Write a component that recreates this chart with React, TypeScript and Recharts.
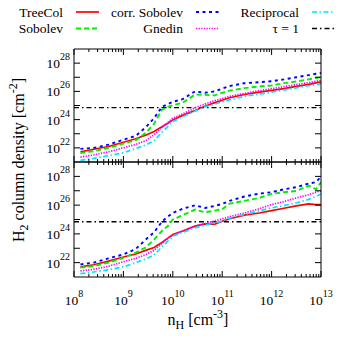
import React from "react"
import { LineChart, Line, XAxis, YAxis, ReferenceLine } from "recharts"

// sample points, log10 of n_H [cm^-3]
const DENSITY_EXP = [8.13, 8.4, 8.7, 9.0, 9.25, 9.45, 9.62, 9.78, 9.9, 10.0, 10.2, 10.45, 10.65, 10.85, 11.0, 11.15, 11.45, 11.75, 12.0, 12.25, 12.5, 12.75, 12.9, 13.0]

// upper panel, log10 of the H2 column density [cm^-2]
const TOP_TREECOL = [21.72, 21.9, 22.1, 22.4, 22.65, 22.9, 23.16, 23.5, 23.75, 23.98, 24.3, 24.65, 24.95, 25.2, 25.37, 25.55, 25.78, 25.95, 26.07, 26.2, 26.35, 26.5, 26.6, 26.67]
const TOP_SOBOLEV = [21.63, 21.77, 22.0, 22.3, 22.55, 23.05, 23.7, 24.7, 24.9, 25.02, 25.2, 25.77, 25.75, 25.72, 25.9, 26.05, 26.23, 26.35, 26.42, 26.58, 26.7, 26.85, 26.95, 27.0]
const TOP_CORR = [21.93, 22.0, 22.23, 22.58, 22.85, 23.45, 24.1, 24.9, 25.1, 25.26, 25.45, 26.0, 25.9, 26.0, 26.2, 26.38, 26.58, 26.65, 26.72, 26.85, 27.0, 27.15, 27.25, 27.3]
const TOP_GNEDIN = [21.35, 21.5, 21.72, 22.0, 22.25, 22.5, 22.93, 23.45, 23.8, 24.1, 24.4, 24.84, 25.1, 25.35, 25.49, 25.65, 25.85, 26.05, 26.19, 26.33, 26.48, 26.62, 26.72, 26.77]
const TOP_RECIP = [21.12, 21.26, 21.45, 21.65, 21.95, 22.2, 22.5, 23.1, 23.5, 23.86, 24.2, 24.6, 24.9, 25.1, 25.26, 25.4, 25.65, 25.8, 25.95, 26.1, 26.25, 26.4, 26.48, 26.53]

// lower panel
const BOT_TREECOL = [21.7, 21.85, 22.1, 22.39, 22.6, 22.85, 23.05, 23.4, 23.7, 23.96, 24.2, 24.54, 24.7, 24.67, 24.88, 25.05, 25.3, 25.45, 25.62, 25.78, 25.95, 26.08, 26.04, 26.04]
const BOT_SOBOLEV = [21.65, 21.76, 22.0, 22.34, 22.7, 23.05, 23.6, 24.2, 24.55, 25.0, 25.3, 25.69, 25.5, 25.62, 25.72, 26.1, 26.3, 26.5, 26.78, 26.9, 26.98, 27.35, 27.1, 27.6]
const BOT_CORR = [21.88, 22.0, 22.3, 22.57, 22.95, 23.6, 24.1, 24.85, 25.2, 25.46, 25.75, 25.99, 25.8, 25.95, 26.08, 26.3, 26.6, 26.8, 26.9, 27.1, 27.25, 27.5, 27.6, 28.0]
const BOT_GNEDIN = [21.42, 21.53, 21.75, 22.06, 22.3, 22.55, 22.85, 23.35, 23.7, 23.91, 24.2, 24.54, 24.72, 24.9, 25.05, 25.2, 25.45, 25.75, 26.04, 26.25, 26.5, 26.72, 26.9, 27.0]
const BOT_RECIP = [21.23, 21.35, 21.5, 21.7, 22.0, 22.25, 22.53, 23.1, 23.5, 23.84, 24.1, 24.42, 24.6, 24.75, 24.9, 25.1, 25.35, 25.6, 25.81, 25.97, 26.15, 26.4, 26.6, 26.78]

const TAU_ONE = 7e24

const X_DECADES = [8, 9, 10, 11, 12, 13]
const Y_DECADES = [22, 23, 24, 25, 26, 27, 28]
const Y_LABELLED = [22, 24, 26, 28]

const W = 338
const LEFT = 74
const RIGHT = 321
const SERIF = { fontFamily: "'Liberation Serif', 'Times New Roman', Times, serif" }

const SERIES = [
  { key: "treecol", name: "TreeCol", color: "#ff0000", dash: undefined, width: 1.7 },
  { key: "sobolev", name: "Sobolev", color: "#00ee00", dash: "5 3", width: 1.9 },
  { key: "corr", name: "corr. Sobolev", color: "#0000ff", dash: "3 3.5", width: 1.9 },
  { key: "gnedin", name: "Gnedin", color: "#ff00ff", dash: "1.3 1.3", width: 1.7 },
  { key: "recip", name: "Reciprocal", color: "#00e5ff", dash: "5 2.5 1.5 2.5", width: 1.7 },
]
const TAU_DASH = "5 3 1.5 3"

const makeRows = (cols: Record<string, number[]>) =>
  DENSITY_EXP.map((e, i) => {
    const row: Record<string, number> = { n: 10 ** e }
    Object.keys(cols).forEach(k => { row[k] = 10 ** cols[k][i] })
    return row
  })

const TOP_ROWS = makeRows({ treecol: TOP_TREECOL, sobolev: TOP_SOBOLEV, corr: TOP_CORR, gnedin: TOP_GNEDIN, recip: TOP_RECIP })
const BOT_ROWS = makeRows({ treecol: BOT_TREECOL, sobolev: BOT_SOBOLEV, corr: BOT_CORR, gnedin: BOT_GNEDIN, recip: BOT_RECIP })

// major + minor log ticks
const X_TICKS: number[] = []
X_DECADES.forEach(d => {
  if (d === 13) { X_TICKS.push(1e13); return }
  for (let m = 1; m <= 9; m++) X_TICKS.push(m * 10 ** d)
})
const Y_TICKS = Y_DECADES.map(d => 10 ** d)

const isDecade = (v: number) => Math.abs(Math.log10(v) - Math.round(Math.log10(v))) < 1e-6

const XTick = (props: any) => {
  const { x, y, payload, dir, label } = props
  const major = isDecade(payload.value)
  const len = major ? 6 : 3
  const exp = Math.round(Math.log10(payload.value))
  return (
    <g>
      <line x1={x} y1={y} x2={x} y2={y + dir * len} stroke="#000" strokeWidth={1} />
      {label && major && (
        <text x={x} y={y + 28} textAnchor="middle" style={SERIF} fontSize={13.5} fill="#000">
          10<tspan dy={-8} fontSize={10}>{exp}</tspan>
        </text>
      )}
    </g>
  )
}

const YTick = (props: any) => {
  const { x, y, payload, dir, label } = props
  const exp = Math.round(Math.log10(payload.value))
  return (
    <g>
      <line x1={x} y1={y} x2={x + dir * 6} y2={y} stroke="#000" strokeWidth={1} />
      {label && Y_LABELLED.includes(exp) && (
        <text x={x - 4} y={y + 5} textAnchor="end" style={SERIF} fontSize={13.5} fill="#000">
          10<tspan dy={-8} fontSize={10}>{exp}</tspan>
        </text>
      )}
    </g>
  )
}

const AXIS = { stroke: "#000", strokeWidth: 1 }

const Panel = ({ rows, top, bottom, xLabels }: { rows: any[], top: number, bottom: number, xLabels: boolean }) => (
  <div style={{ position: "absolute", left: 0, top: 0 }}>
    <LineChart width={W} height={W} data={rows} margin={{ top: 0, right: 0, bottom: 0, left: 0 }}>
      <XAxis xAxisId="b" dataKey="n" type="number" scale="log" domain={[1e8, 1e13]} allowDataOverflow
        ticks={X_TICKS} interval={0} height={W - bottom} tickSize={0} tickMargin={0} tickLine={false}
        axisLine={AXIS} tick={(p: any) => <XTick {...p} dir={-1} label={xLabels} />} />
      <XAxis xAxisId="t" orientation="top" dataKey="n" type="number" scale="log" domain={[1e8, 1e13]} allowDataOverflow
        ticks={X_TICKS} interval={0} height={top} tickSize={0} tickMargin={0} tickLine={false}
        axisLine={AXIS} tick={(p: any) => <XTick {...p} dir={1} label={false} />} />
      <YAxis yAxisId="l" type="number" scale="log" domain={[1e21, 1e29]} allowDataOverflow
        ticks={Y_TICKS} interval={0} width={LEFT} tickSize={0} tickMargin={0} tickLine={false}
        axisLine={AXIS} tick={(p: any) => <YTick {...p} dir={1} label={true} />} />
      <YAxis yAxisId="r" orientation="right" type="number" scale="log" domain={[1e21, 1e29]} allowDataOverflow
        ticks={Y_TICKS} interval={0} width={W - RIGHT} tickSize={0} tickMargin={0} tickLine={false}
        axisLine={AXIS} tick={(p: any) => <YTick {...p} dir={-1} label={false} />} />
      <ReferenceLine xAxisId="b" yAxisId="l" y={TAU_ONE} stroke="#000" strokeWidth={1.3} strokeDasharray={TAU_DASH} />
      {SERIES.map(s => (
        <Line key={s.key} xAxisId="b" yAxisId="l" type="linear" dataKey={s.key} stroke={s.color}
          strokeWidth={s.width} strokeDasharray={s.dash} dot={false} isAnimationActive={false} />
      ))}
    </LineChart>
  </div>
)

const KEY_ROWS = [
  [{ ...SERIES[0] }, { ...SERIES[2] }, { ...SERIES[4] }],
  [{ ...SERIES[1] }, { ...SERIES[3] }, { key: "tau", name: "\u03c4 = 1", color: "#000", dash: TAU_DASH, width: 1.3 }],
]
const KEY_TEXT_X = [63, 183, 299]
const KEY_BASE_Y = [16.5, 33]

const Overlay = () => (
  <svg width={W} height={W} style={{ position: "absolute", left: 0, top: 0, pointerEvents: "none" }}>
    {KEY_ROWS.map((row, r) =>
      row.map((item, c) => (
        <g key={item.key}>
          <text x={KEY_TEXT_X[c]} y={KEY_BASE_Y[r]} textAnchor="end" style={SERIF} fontSize={13.5} fill="#000">{item.name}</text>
          <line x1={KEY_TEXT_X[c] + 13} x2={KEY_TEXT_X[c] + 36} y1={KEY_BASE_Y[r] - 4.5} y2={KEY_BASE_Y[r] - 4.5}
            stroke={item.color} strokeWidth={item.width} strokeDasharray={item.dash} />
        </g>
      ))
    )}
    <text x={198} y={325} textAnchor="middle" style={SERIF} fontSize={16} fill="#000">
      n<tspan dy={4} fontSize={12}>H</tspan><tspan dy={-4}> [cm</tspan><tspan dy={-7} fontSize={12}>-3</tspan><tspan dy={7}>]</tspan>
    </text>
    <text x={24} y={160} transform="rotate(-90 24 160)" textAnchor="middle" style={SERIF} fontSize={16} fill="#000">
      H<tspan dy={4} fontSize={12}>2</tspan><tspan dy={-4}> column density [cm</tspan><tspan dy={-7} fontSize={12}>-2</tspan><tspan dy={7}>]</tspan>
    </text>
  </svg>
)

export default function App() {
  return (
    <div style={{ position: "fixed", left: 0, top: 0, width: W, height: W, background: "#fff", ...SERIF }}>
      <Panel rows={TOP_ROWS} top={49} bottom={162} xLabels={false} />
      <Panel rows={BOT_ROWS} top={162} bottom={277} xLabels={true} />
      <Overlay />
    </div>
  )
}
